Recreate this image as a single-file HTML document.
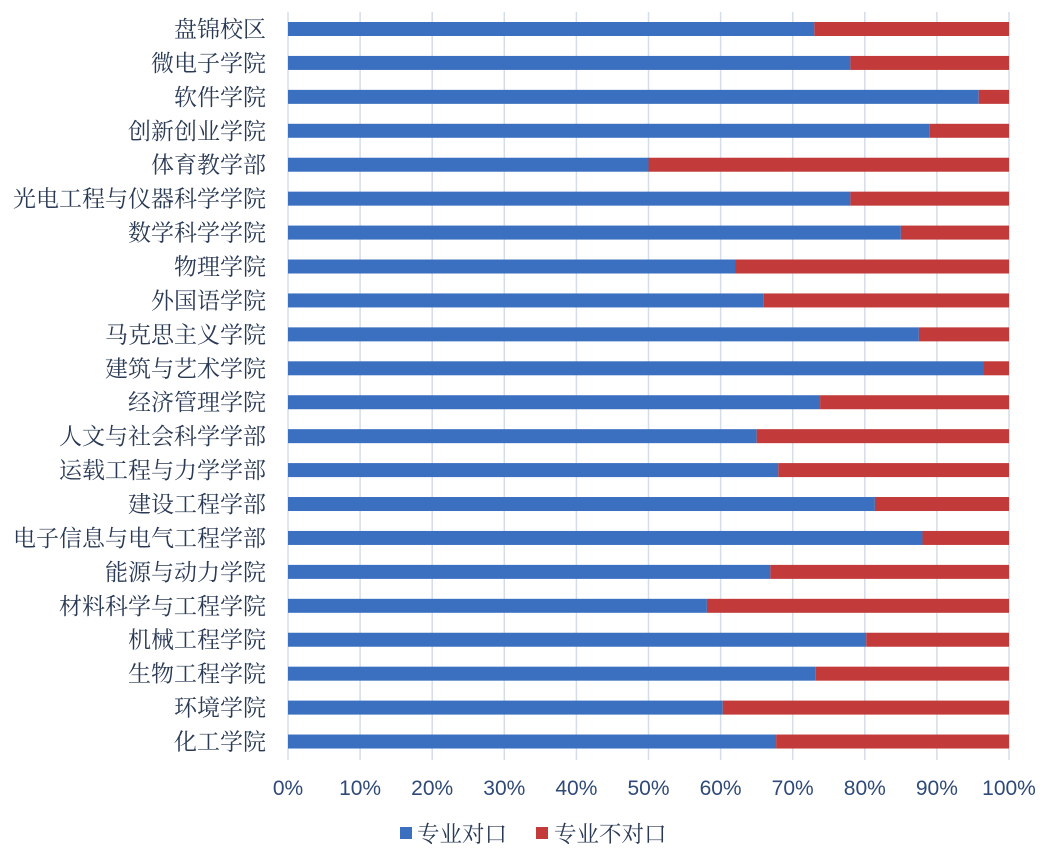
<!DOCTYPE html><html><head><meta charset="utf-8"><style>
body{margin:0;background:#fff;width:1044px;height:854px;overflow:hidden}
svg text{font-family:"Liberation Serif","Noto Serif CJK SC",serif}
</style></head><body>
<svg width="1044" height="854" xmlns="http://www.w3.org/2000/svg">
<g id="g"></g>
</svg>
<script>
const names=["盘锦校区","微电子学院","软件学院","创新创业学院","体育教学部","光电工程与仪器科学学院","数学科学学院","物理学院","外国语学院","马克思主义学院","建筑与艺术学院","经济管理学院","人文与社会科学学部","运载工程与力学学部","建设工程学部","电子信息与电气工程学部","能源与动力学院","材料科学与工程学院","机械工程学院","生物工程学院","环境学院","化工学院"];
const v=[73,78,95.8,89,50,78,85,62,66,87.5,96.4,73.8,65,68,81.4,88,66.9,58.1,80.2,73.2,60.3,67.7];
const x0=288,W=721;let s='';
for(let i=0;i<=10;i++){const x=x0+W*i/10;s+=`<line x1="${x}" y1="12" x2="${x}" y2="760" stroke="#d5dde8" stroke-width="1.5"/>`;
s+=`<text x="${x}" y="795" text-anchor="middle" font-size="21" fill="#2f4a78" style="font-family:'Liberation Sans',sans-serif">${i*10}%</text>`;}
names.forEach((n,i)=>{const c=29+i*33.93;const b=x0+W*v[i]/100;
s+=`<rect x="${x0}" y="${c-7}" width="${b-x0}" height="14" fill="#3b70c0"/>`;
s+=`<rect x="${b}" y="${c-7}" width="${x0+W-b}" height="14" fill="#c23a3a"/>`;
s+=`<text x="266" y="${c+8}" text-anchor="end" font-size="23" fill="#2a3a55">${n}</text>`;});
s+=`<rect x="400" y="827" width="12" height="12" fill="#3b70c0"/><text x="417" y="842" font-size="22.5" fill="#2a3a55">专业对口</text>`;
s+=`<rect x="536" y="827" width="12" height="12" fill="#c23a3a"/><text x="554" y="842" font-size="22.5" fill="#2a3a55">专业不对口</text>`;
document.getElementById('g').innerHTML=s;
</script>
</body></html>
